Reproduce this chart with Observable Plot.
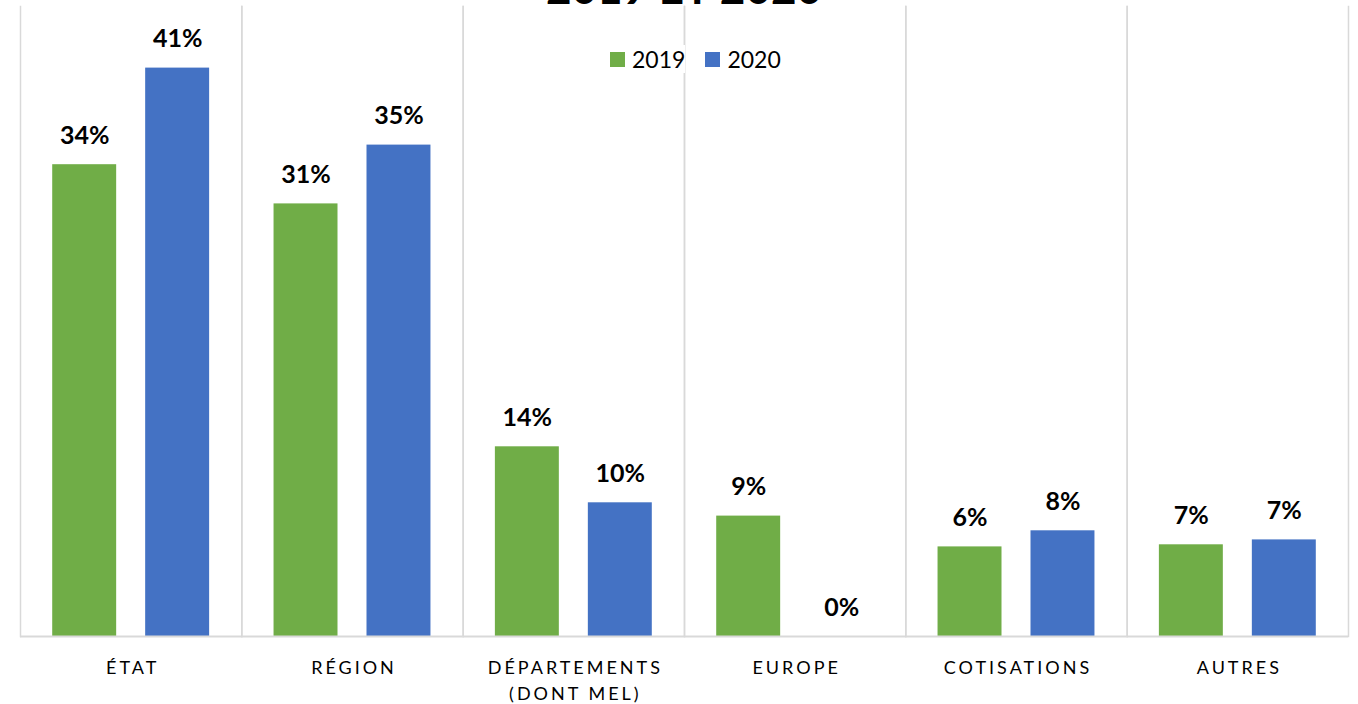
<!DOCTYPE html>
<html><head><meta charset="utf-8">
<script src="https://cdn.jsdelivr.net/npm/d3@7"></script>
<script src="https://cdn.jsdelivr.net/npm/@observablehq/plot@0.6"></script>
<style>
body{margin:0;background:#fff;overflow:hidden}
#wrap{position:relative;width:1358px;height:704px;overflow:hidden}
#title{position:absolute;left:0;width:1368px;top:-35px;text-align:center;font:bold 44px/44px Lato,sans-serif;color:#000;z-index:2}
#legend{position:absolute;top:45px;left:610px;z-index:2}
#legend .leg-swatches{font-family:Lato,sans-serif !important;font-size:23px !important;color:#000;min-height:0 !important;margin:0 !important;background:transparent}
#legend .leg-swatch{margin-right:20px !important;background:#fff}
#legend .leg-swatch > svg{margin-right:7px !important}
#chart{position:absolute;top:0;left:0}
.chart g[aria-label="fx-axis tick label"] text{letter-spacing:3px}
</style></head>
<body>
<div id="wrap">
  <div id="title"></div>
  <div id="chart"></div>
  <div id="legend"></div>
</div>
<script>
const titleText = "2019 ET 2020";
const categories = ["ÉTAT", "RÉGION", "DÉPARTEMENTS\n(DONT MEL)", "EUROPE", "COTISATIONS", "AUTRES"];
const years = ["2019", "2020"];
const values2019 = [33.7, 30.9, 13.55, 8.6, 6.4, 6.55];
const values2020 = [40.6, 35.1, 9.55, 0, 7.55, 6.9];
const colors = ["#70AD47", "#4472C4"];

const data = [];
categories.forEach((c, i) => {
  data.push({category: c, year: years[0], value: values2019[i]});
  data.push({category: c, year: years[1], value: values2020[i]});
});

document.getElementById("title").textContent = titleText;

const grid = "#d9d9d9";
const plot = Plot.plot({
  width: 1358,
  height: 704,
  marginTop: 6,
  marginBottom: 68,
  marginLeft: 20,
  marginRight: 10,
  className: "chart",
  style: {fontFamily: "Lato, sans-serif", color: "#000", background: "transparent"},
  fx: {domain: categories, padding: 0, round: false},
  x: {domain: years, paddingInner: 0.312, paddingOuter: 0.3465, axis: null, round: false},
  y: {domain: [0, 45], axis: null},
  color: {domain: years, range: colors},
  marks: [
    Plot.frame({anchor: "left", stroke: grid, strokeWidth: 1.5}),
    Plot.frame({anchor: "right", stroke: grid, strokeWidth: 1.5}),
    Plot.barY(data, {fx: "category", x: "year", y: "value", fill: "year"}),
    Plot.ruleY([0], {stroke: grid, strokeWidth: 2}),
    Plot.text(data, {
      fx: "category", x: "year", y: "value",
      text: d => Math.round(d.value) + "%",
      lineAnchor: "bottom", dy: -21,
      fontSize: 25, fontWeight: "bold", fill: "#000"
    }),
    Plot.axisFx({anchor: "bottom", tickSize: 0, tickPadding: 20, fontSize: 18, lineHeight: 1.4, label: null, dx: 1.5})
  ]
});
document.getElementById("chart").appendChild(plot);

const legend = Plot.legend({
  color: {domain: years, range: colors},
  swatchSize: 15,
  className: "leg"
});
document.getElementById("legend").appendChild(legend);
</script>
</body></html>
